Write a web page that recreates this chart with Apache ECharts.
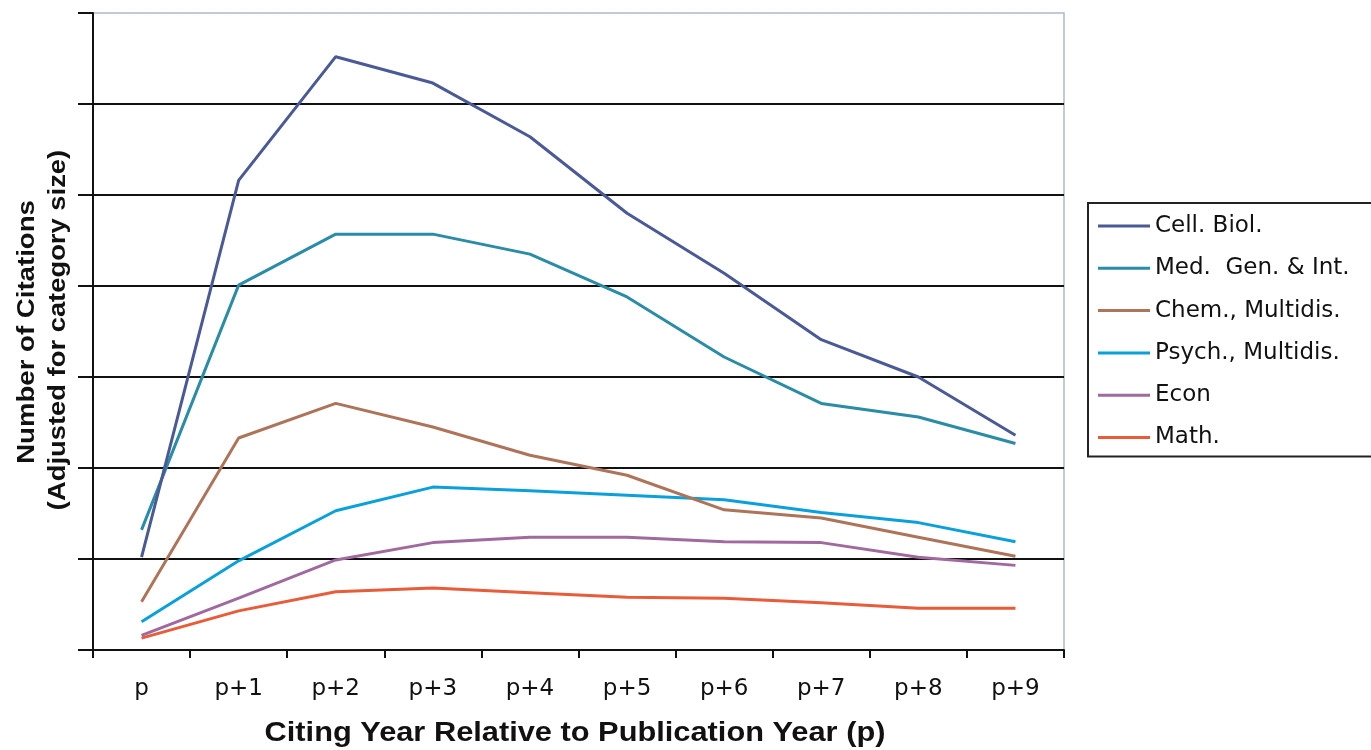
<!DOCTYPE html>
<html>
<head>
<meta charset="utf-8">
<script src="https://cdn.jsdelivr.net/npm/echarts@6/dist/echarts.min.js"></script>
<style>
html,body{margin:0;padding:0;background:#fff;}
#chart{width:1371px;height:750px;}
</style>
</head>
<body>
<div id="chart"></div>
<script>
const categories = ['p','p+1','p+2','p+3','p+4','p+5','p+6','p+7','p+8','p+9'];
const seriesNames = ['Cell. Biol.','Med.  Gen. & Int.','Chem., Multidis.','Psych., Multidis.','Econ','Math.'];
const cellBiol = [10.2, 51.6, 65.2, 62.3, 56.4, 48.0, 41.4, 34.1, 30.0, 23.6];
const medGen   = [13.2, 40.1, 45.7, 45.7, 43.5, 38.8, 32.2, 27.1, 25.6, 22.7];
const chem     = [5.3, 23.3, 27.1, 24.5, 21.4, 19.2, 15.4, 14.5, 12.4, 10.3];
const psych    = [3.1, 9.8, 15.3, 17.9, 17.5, 17.0, 16.5, 15.1, 14.0, 11.9];
const econ     = [1.6, 5.7, 9.9, 11.8, 12.4, 12.4, 11.9, 11.8, 10.2, 9.3];
const math     = [1.3, 4.3, 6.4, 6.8, 6.3, 5.8, 5.7, 5.2, 4.6, 4.6];
const colors = ['#4a5a96','#2a8ca6','#ad7459','#0aa0dc','#a06a9e','#e85c3a'];
const allData = [cellBiol, medGen, chem, psych, econ, math];

const chart = echarts.init(document.getElementById('chart'));
const FONT = '"Liberation Sans", Arial, sans-serif';
const WIDE = '"DejaVu Sans", Verdana, sans-serif';
chart.setOption({
  animation: false,
  backgroundColor: '#fff',
  grid: {left: 93, right: 307, top: 13, bottom: 100, show: true, borderColor: '#aebbc8', borderWidth: 1.5, backgroundColor: 'transparent'},
  legend: {
    left: 1088, top: 203,
    orient: 'vertical',
    icon: 'rect', itemWidth: 52, itemHeight: 3, itemGap: 18.3,
    padding: [11, 60, 7, 10],
    borderColor: '#222', borderWidth: 2,
    textStyle: {fontFamily: WIDE, fontSize: 23, color: '#111', lineHeight: 24},
    data: seriesNames
  },
  xAxis: {
    type: 'category', data: categories, boundaryGap: true,
    axisLine: {lineStyle: {color: '#111', width: 2}},
    axisTick: {show: true, length: 8, lineStyle: {color: '#111', width: 2}},
    axisLabel: {fontFamily: WIDE, fontSize: 23, color: '#111', margin: 28},
    splitLine: {show: false}
  },
  yAxis: {
    type: 'value', min: 0, max: 70, interval: 10,
    axisLine: {show: true, lineStyle: {color: '#111', width: 2}},
    axisTick: {show: true, length: 15, lineStyle: {color: '#111', width: 2}},
    axisLabel: {show: false},
    splitLine: {show: true, showMaxLine: false, lineStyle: {color: '#111', width: 2}}
  },
  graphic: [
    {type: 'text', x: 575, y: 734, scaleX: 1.14, style: {text: 'Citing Year Relative to Publication Year (p)', font: 'bold 27px ' + FONT, fill: '#111', textAlign: 'center', textVerticalAlign: 'middle'}},
    {type: 'text', x: 27, y: 332, rotation: Math.PI/2, scaleX: 1.15, style: {text: 'Number of Citations', font: 'bold 24px ' + FONT, fill: '#111', textAlign: 'center', textVerticalAlign: 'middle'}},
    {type: 'text', x: 58, y: 330, rotation: Math.PI/2, scaleX: 1.14, style: {text: '(Adjusted for category size)', font: 'bold 24px ' + FONT, fill: '#111', textAlign: 'center', textVerticalAlign: 'middle'}}
  ],
  series: seriesNames.map((n, i) => ({
    name: n, type: 'line', data: allData[i], symbol: 'none', showSymbol: false,
    lineStyle: {color: colors[i], width: 3}, itemStyle: {color: colors[i]},
    z: 10 - i
  }))
});
</script>
</body>
</html>
